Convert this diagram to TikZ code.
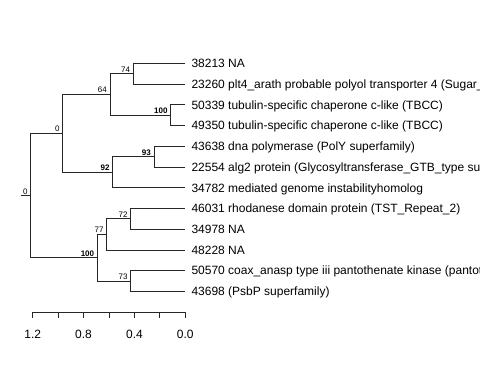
\documentclass[tikz,border=0pt]{standalone}
\usepackage{fontspec}
\setmainfont{Liberation Sans}
\begin{document}
\begin{tikzpicture}[x=1pt,y=-1pt,
  edge/.style={draw=black!85,line width=0.8pt},
  leaf/.style={anchor=base west,inner sep=0pt,font=\fontsize{12}{12}\selectfont},
  blab/.style={anchor=south east,inner sep=0pt,xshift=-3pt,yshift=1.2pt,font=\fontsize{8}{8}\selectfont\bfseries},
  nlab/.style={anchor=south east,inner sep=0pt,xshift=-3pt,yshift=1.2pt,font=\fontsize{8}{8}\selectfont},
  axlab/.style={anchor=base,inner sep=0pt,font=\fontsize{12}{12}\selectfont}]
\useasboundingbox (0,0) rectangle (480,384);
\clip (0,0) rectangle (480,384);
% leaf tips
\foreach \i/\y in {1/63.3,2/84.0,3/104.8,4/125.5,5/146.2,6/167.0,7/187.7,8/208.4,9/229.1,10/249.9,11/270.6,12/291.3}{
  \coordinate (t\i) at (185,\y);
}
% internal nodes
\coordinate (rs) at (20.5,195.5);
\coordinate (root) at (30.7,195.5);
\coordinate (n0) at (62.7,133.3);
\coordinate (n64) at (110,94.4);
\coordinate (n74) at (133.3,73.7);
\coordinate (n100a) at (170.7,115.2);
\coordinate (n92) at (112.7,172.1);
\coordinate (n93) at (154,156.6);
\coordinate (n100b) at (97.3,257.6);
\coordinate (n77) at (106.7,234.3);
\coordinate (n72) at (130.8,218.8);
\coordinate (n73) at (130.8,281);
% edges
\draw[edge] (rs) -- (root);
\draw[edge] (root) |- (n0);
\draw[edge] (root) |- (n100b);
\draw[edge] (n0) |- (n64);
\draw[edge] (n0) |- (n92);
\draw[edge] (n64) |- (n74);
\draw[edge] (n64) |- (n100a);
\draw[edge] (n74) |- (t1);
\draw[edge] (n74) |- (t2);
\draw[edge] (n100a) |- (t3);
\draw[edge] (n100a) |- (t4);
\draw[edge] (n92) |- (n93);
\draw[edge] (n92) |- (t7);
\draw[edge] (n93) |- (t5);
\draw[edge] (n93) |- (t6);
\draw[edge] (n100b) |- (n77);
\draw[edge] (n100b) |- (n73);
\draw[edge] (n77) |- (n72);
\draw[edge] (n77) |- (t10);
\draw[edge] (n72) |- (t8);
\draw[edge] (n72) |- (t9);
\draw[edge] (n73) |- (t11);
\draw[edge] (n73) |- (t12);
% node labels
\node[nlab] (lroot) at (root) {0};
\node[nlab] (l0) at (n0) {0};
\node[nlab] (l64) at (n64) {64};
\node[nlab] (l74) at (n74) {74};
\node[blab] (l100a) at (n100a) {100};
\node[blab] (l92) at (n92) {92};
\node[blab] (l93) at (n93) {93};
\node[blab] (l100b) at (n100b) {100};
\node[nlab] (l77) at (n77) {77};
\node[nlab] (l72) at (n72) {72};
\node[nlab] (l73) at (n73) {73};
% leaf labels
\node[leaf] (s1) at ([shift={(6.3,4.3)}]t1) {38213 NA};
\node[leaf] (s2) at ([shift={(6.3,4.3)}]t2) {23260 plt4\_arath probable polyol transporter 4 (Sugar\_tr};
\node[leaf] (s3) at ([shift={(6.3,4.3)}]t3) {50339 tubulin-specific chaperone c-like (TBCC)};
\node[leaf] (s4) at ([shift={(6.3,4.3)}]t4) {49350 tubulin-specific chaperone c-like (TBCC)};
\node[leaf] (s5) at ([shift={(6.3,4.3)}]t5) {43638 dna polymerase (PolY superfamily)};
\node[leaf] (s6) at ([shift={(6.3,4.3)}]t6) {22554 alg2 protein (Glycosyltransferase\_GTB\_type su};
\node[leaf] (s7) at ([shift={(6.3,4.3)}]t7) {34782 mediated genome instabilityhomolog};
\node[leaf] (s8) at ([shift={(6.3,4.3)}]t8) {46031 rhodanese domain protein (TST\_Repeat\_2)};
\node[leaf] (s9) at ([shift={(6.3,4.3)}]t9) {34978 NA};
\node[leaf] (s10) at ([shift={(6.3,4.3)}]t10) {48228 NA};
\node[leaf] (s11) at ([shift={(6.3,4.3)}]t11) {50570 coax\_anasp type iii pantothenate kinase (pantot};
\node[leaf] (s12) at ([shift={(6.3,4.3)}]t12) {43698 (PsbP superfamily)};
% scale axis
\foreach \k in {0,...,6}{
  \coordinate (tk\k) at ({32.7+\k*25.43},312.3);
}
\draw[edge] (tk0) -- (tk6);
\foreach \k in {0,...,6}{
  \draw[edge] (tk\k) -- ++(0,6);
}
\node[axlab] (x12) at ([yshift=-26.3pt]tk0) {1.2};
\node[axlab] (x08) at ([yshift=-26.3pt]tk2) {0.8};
\node[axlab] (x04) at ([yshift=-26.3pt]tk4) {0.4};
\node[axlab] (x00) at ([yshift=-26.3pt]tk6) {0.0};
\end{tikzpicture}
\end{document}
